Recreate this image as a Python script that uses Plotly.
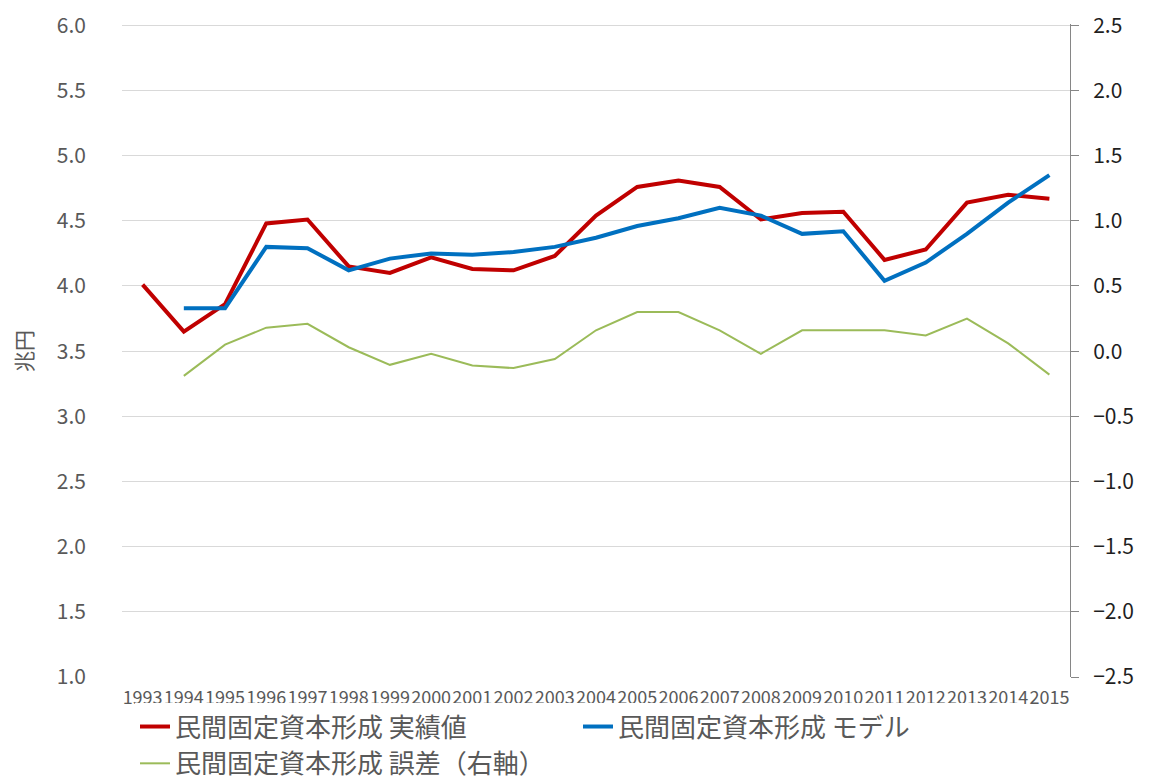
import plotly.graph_objects as go

years = [str(y) for y in range(1993, 2016)]

actual = [4.01, 3.65, 3.86, 4.48, 4.51, 4.15, 4.10, 4.22, 4.13, 4.12, 4.23, 4.54,
          4.76, 4.81, 4.76, 4.51, 4.56, 4.57, 4.20, 4.28, 4.64, 4.70, 4.67]
model = [None, 3.83, 3.83, 4.30, 4.29, 4.12, 4.21, 4.25, 4.24, 4.26, 4.30, 4.37,
         4.46, 4.52, 4.60, 4.54, 4.40, 4.42, 4.04, 4.18, 4.40, 4.64, 4.85]
error = [None, -0.19, 0.05, 0.18, 0.21, 0.03, -0.105, -0.02, -0.11, -0.13, -0.06, 0.16,
         0.30, 0.30, 0.16, -0.02, 0.16, 0.16, 0.16, 0.12, 0.25, 0.06, -0.18]

names = ["民間固定資本形成 実績値", "民間固定資本形成 モデル", "民間固定資本形成 誤差（右軸）"]
FONT = "Noto Sans CJK JP"
GRAY = "#595959"

fig = go.Figure()
fig.add_trace(go.Scatter(x=years, y=actual, name=names[0], mode="lines",
                         line=dict(color="#C00000", width=4)))
fig.add_trace(go.Scatter(x=years, y=model, name=names[1], mode="lines",
                         line=dict(color="#0070C0", width=4)))
fig.add_trace(go.Scatter(x=years, y=error, name=names[2], mode="lines", yaxis="y2",
                         line=dict(color="#9BBB59", width=2)))

fig.update_layout(
    width=1148, height=772,
    margin=dict(l=114, r=86, t=16, b=103, autoexpand=False),
    paper_bgcolor="white", plot_bgcolor="white",
    font=dict(family=FONT, color=GRAY),
    xaxis=dict(type="category", range=[-0.5, 22.5], tickmode="array", tickvals=years,
               tickangle=0, tickfont=dict(size=18, color=GRAY), showgrid=False,
               showline=False, ticks="", automargin=False, ticklabelstandoff=8),
    yaxis=dict(range=[1, 6.01], dtick=0.5, tick0=1, tickformat=".1f", showgrid=True,
               gridcolor="#D9D9D9", gridwidth=1, zeroline=False, showline=False,
               tickfont=dict(size=21, color=GRAY), ticklabelstandoff=35,
               ticklabeloverflow="allow", automargin=False),
    yaxis2=dict(range=[-2.5, 2.51], dtick=0.5, tick0=0, tickformat=".1f", overlaying="y",
                side="right", showgrid=False, zeroline=False, showline=True,
                linecolor="#868686", linewidth=1, ticks="outside", ticklen=8,
                tickcolor="#868686", tickfont=dict(size=21, color="#1F1F1F"),
                ticklabelstandoff=10, ticklabeloverflow="allow", automargin=False),
    legend=dict(orientation="h", x=0.0137, xanchor="left", y=-0.040, yanchor="top",
                entrywidth=398, entrywidthmode="pixels",
                font=dict(size=26, color=GRAY, family=FONT),
                tracegroupgap=0, itemwidth=30),
    annotations=[dict(text="兆円", x=-0.105, y=0.5, xref="paper", yref="paper",
                      xanchor="center", yanchor="middle", textangle=-90,
                      showarrow=False, font=dict(size=21, color=GRAY, family=FONT))],
)

fig.write_html("out.html")
